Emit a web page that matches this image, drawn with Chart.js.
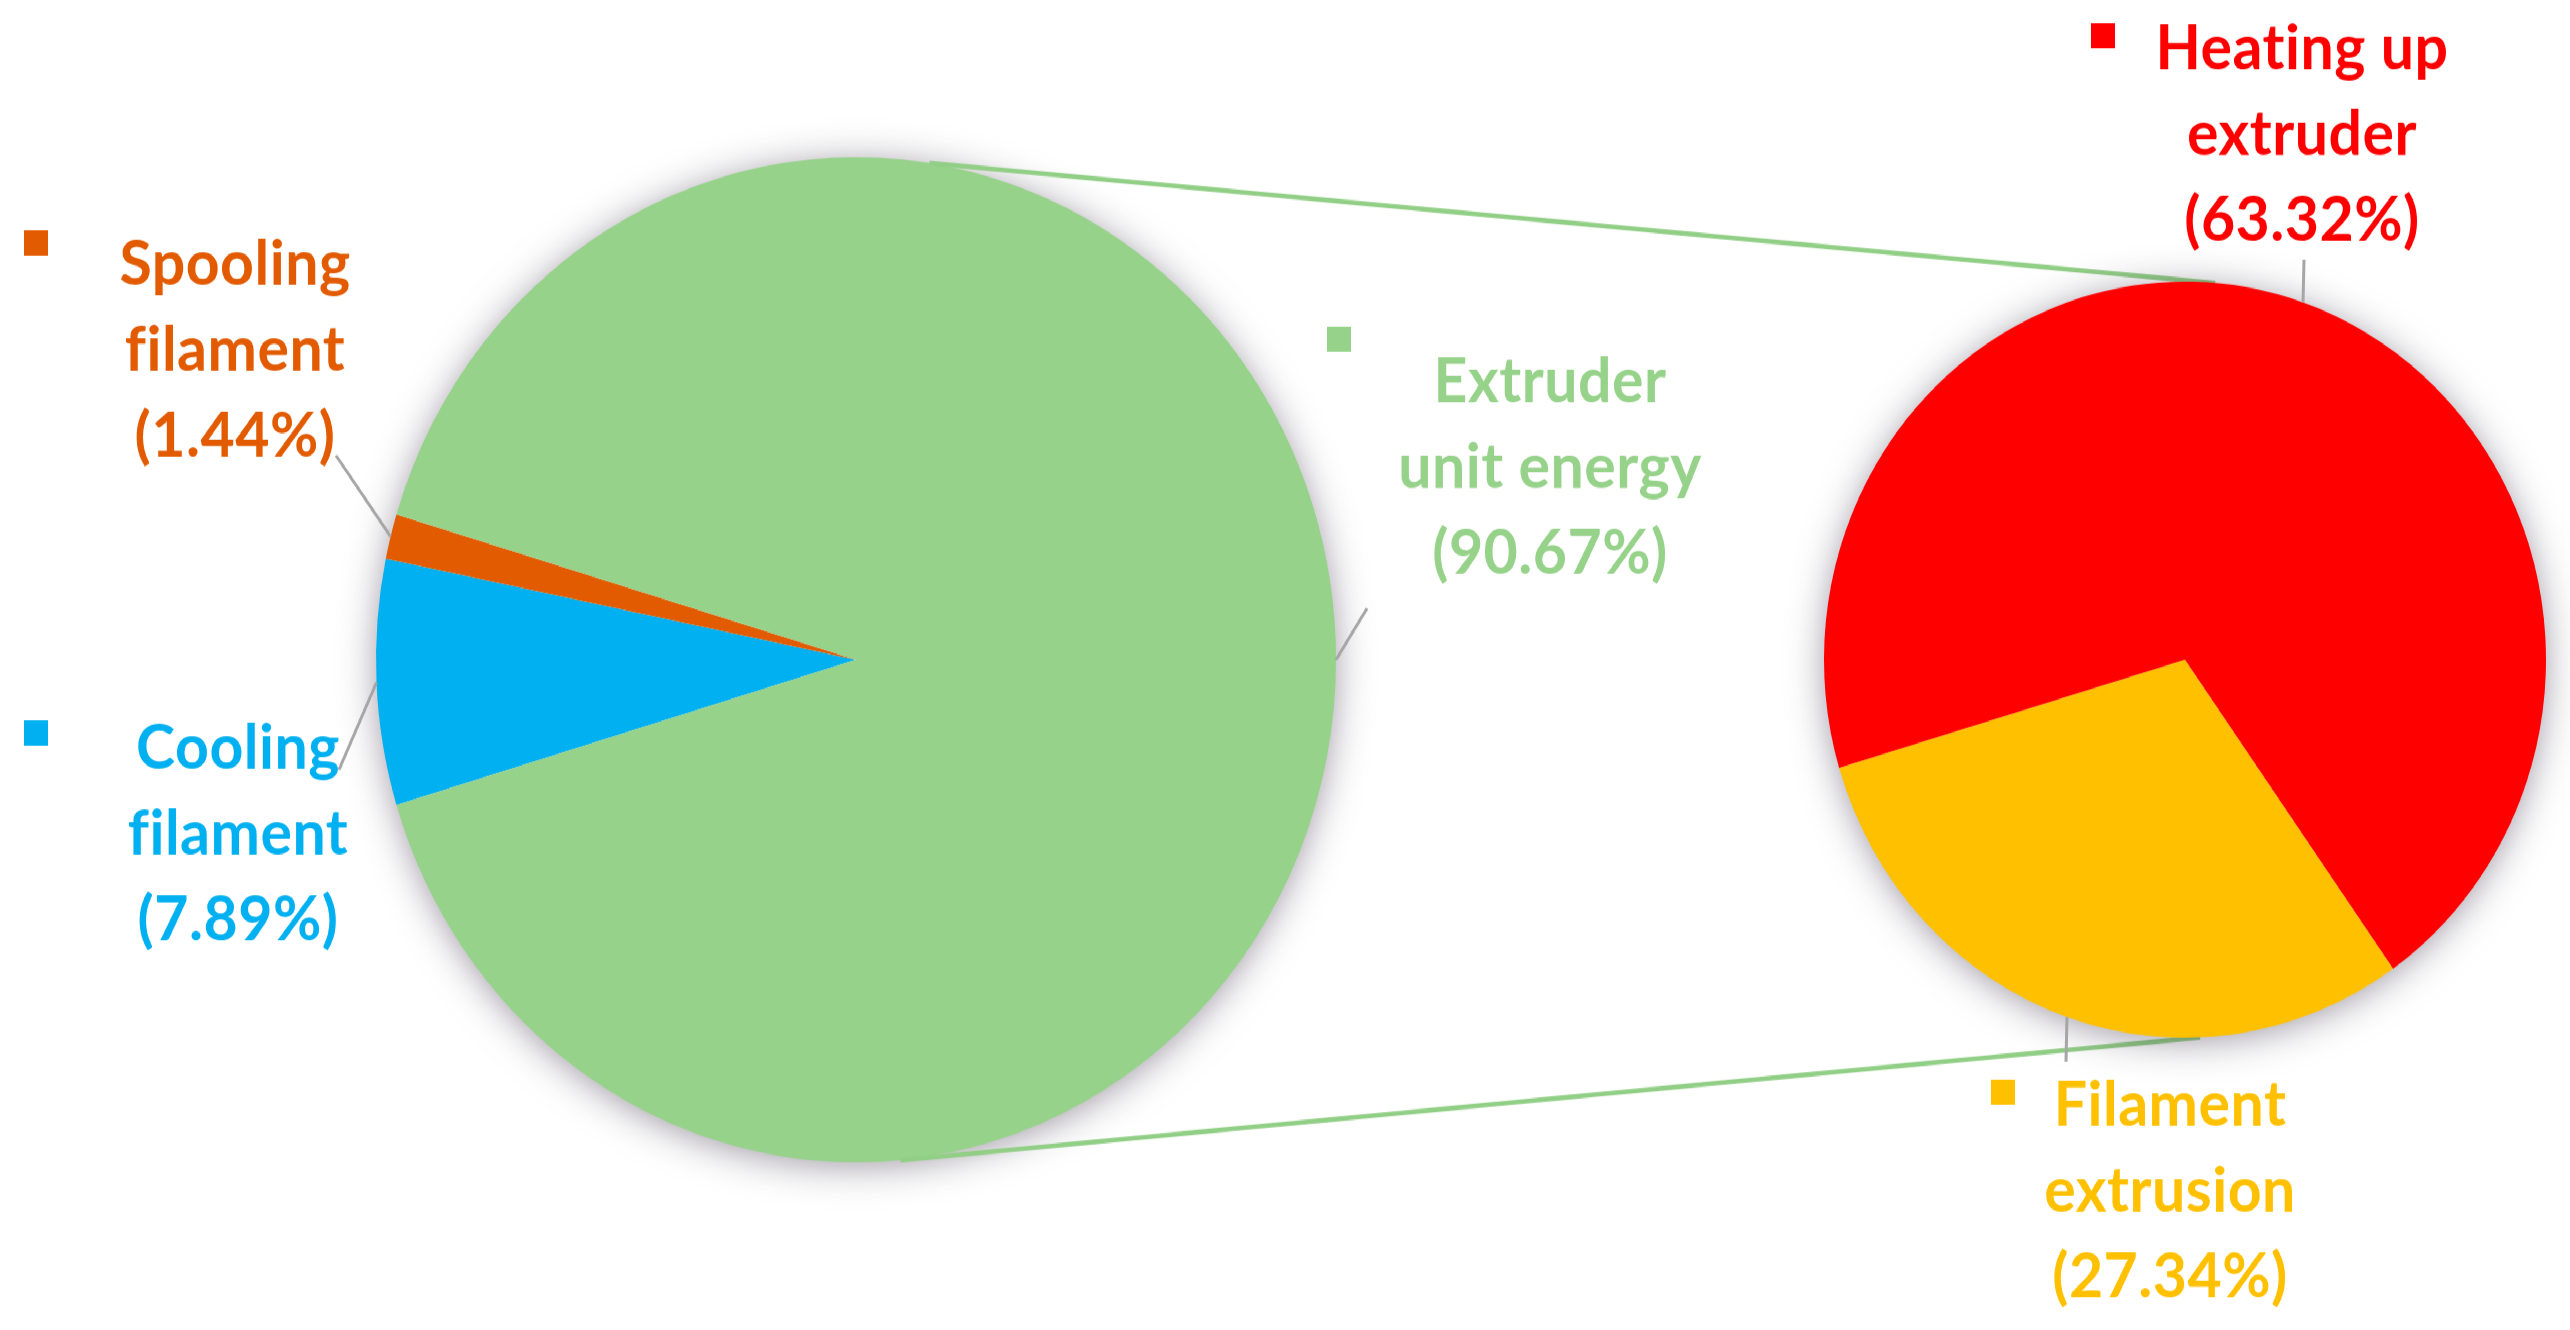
<!DOCTYPE html>
<html><head><meta charset="utf-8">
<script src="https://cdn.jsdelivr.net/npm/chart.js@4.4.1/dist/chart.umd.min.js"></script>
<style>
html,body{margin:0;padding:0;background:#fff;overflow:hidden;width:2570px;height:1330px;}
#wrap{position:absolute;left:0;top:0;width:2570px;height:1270px;transform-origin:0 0;transform:scaleY(1.0472);}
canvas{position:absolute;left:0;top:0;}
</style></head><body>
<div id="wrap"><canvas id="c1" width="2570" height="1270"></canvas><canvas id="c2" width="2570" height="1270"></canvas></div>
<script>
// ---- data ----
const mainLabels = ['Cooling filament', 'Spooling filament', 'Extruder unit energy'];
const mainValues = [7.89, 1.44, 90.67];
const mainColors = ['#00B0F0', '#E35B00', '#96D28A'];
const subLabels = ['Filament extrusion', 'Heating up extruder'];
const subValues = [27.34, 63.32];
const subColors = ['#FFC000', '#FF0000'];
const mainLabelLines = [['Cooling', 'filament'], ['Spooling', 'filament'], ['Extruder', 'unit energy']];
const subLabelLines = [['Filament', 'extrusion'], ['Heating up', 'extruder']];

// ---- layout (styles) ----
const FONT = 'bold 59px Lato, "Open Sans", sans-serif';
const LINE_H = 82;
const mainLabelLayout = [
  {x: 238, y: 715, mx: 36, my: 700, ax: 339, ay: 735},
  {x: 235, y: 253, mx: 36, my: 232, ax: 336, ay: 435},
  {x: 1550, y: 365, mx: 1339, my: 324, ax: 1367, ay: 581}
];
const subLabelLayout = [
  {x: 2170, y: 1056, mx: 2003, my: 1043, ax: 2066, ay: 1014},
  {x: 2302, y: 47, mx: 2103, my: 34, ax: 2304, ay: 248}
];

function arcGeom(chart, i) {
  const el = chart.getDatasetMeta(0).data[i];
  return el.getProps(['x', 'y', 'startAngle', 'endAngle', 'outerRadius'], true);
}

const shadowPlugin = {
  id: 'pieShadow',
  beforeDatasetsDraw(chart) {
    const g = arcGeom(chart, 0);
    const ctx = chart.ctx;
    ctx.save();
    ctx.shadowColor = 'rgba(60,50,70,0.5)';
    ctx.shadowBlur = 36;
    ctx.shadowOffsetY = 4;
    ctx.beginPath();
    ctx.arc(g.x, g.y, g.outerRadius - 1, 0, Math.PI * 2);
    ctx.fillStyle = '#ffffff';
    ctx.fill();
    ctx.restore();
  }
};

function drawLabels(chart, lines, values, colors, layout) {
  const ctx = chart.ctx;
  ctx.save();
  for (let i = 0; i < values.length; i++) {
    const g = arcGeom(chart, i);
    const L = layout[i];
    const mid = (g.startAngle + g.endAngle) / 2;
    const ex = g.x + Math.cos(mid) * g.outerRadius;
    const ey = g.y + Math.sin(mid) * g.outerRadius;
    ctx.strokeStyle = '#A6A6A6';
    ctx.lineWidth = 3;
    ctx.beginPath();
    ctx.moveTo(ex, ey);
    ctx.lineTo(L.ax, L.ay);
    ctx.stroke();
    ctx.fillStyle = colors[i];
    ctx.fillRect(L.mx - 12, L.my - 12, 24, 24);
    ctx.font = FONT;
    try { ctx.letterSpacing = '0.5px'; } catch (e) {}
    ctx.textAlign = 'center';
    ctx.textBaseline = 'middle';
    const txt = lines[i].concat(['(' + values[i].toFixed(2) + '%)']);
    txt.forEach((t, k) => ctx.fillText(t, L.x, L.y + k * LINE_H));
  }
  ctx.restore();
}

const baseOpts = (rotation, pad) => ({
  responsive: false,
  animation: false,
  rotation: rotation,
  layout: {padding: pad},
  elements: {arc: {borderWidth: 0}},
  plugins: {legend: {display: false}, tooltip: {enabled: false}}
});

const mainChart = new Chart(document.getElementById('c1'), {
  type: 'pie',
  data: {labels: mainLabels, datasets: [{data: mainValues, backgroundColor: mainColors}]},
  options: baseOpts(253.2, {left: 376, right: 1234, top: 150, bottom: 160}),
  plugins: [shadowPlugin, {
    id: 'mainLabels',
    afterDraw(chart) { drawLabels(chart, mainLabelLines, mainValues, mainColors, mainLabelLayout); }
  }]
});

const connectorPlugin = {
  id: 'connectors',
  beforeDatasetsDraw(chart) {
    const a = arcGeom(mainChart, 0);
    const b = arcGeom(chart, 0);
    const ctx = chart.ctx;
    const pt = (g, deg) => {
      const r = (deg - 90) * Math.PI / 180;
      return [g.x + Math.cos(r) * g.outerRadius, g.y + Math.sin(r) * g.outerRadius];
    };
    const segs = [[pt(a, 8.8), pt(b, 4.8)], [pt(a, 174.7), pt(b, 177.6)]];
    ctx.save();
    ctx.strokeStyle = '#92CF86';
    ctx.lineWidth = 4.5;
    segs.forEach(([p, q]) => {
      ctx.beginPath(); ctx.moveTo(p[0], p[1]); ctx.lineTo(q[0], q[1]); ctx.stroke();
    });
    ctx.restore();
  }
};

const subChart = new Chart(document.getElementById('c2'), {
  type: 'pie',
  data: {labels: subLabels, datasets: [{data: subValues, backgroundColor: subColors}]},
  options: baseOpts(144.8, {left: 1824, right: 24, top: 269, bottom: 279}),
  plugins: [connectorPlugin, shadowPlugin, {
    id: 'subLabels',
    afterDraw(chart) { drawLabels(chart, subLabelLines, subValues, subColors, subLabelLayout); }
  }]
});
</script>
</body></html>
